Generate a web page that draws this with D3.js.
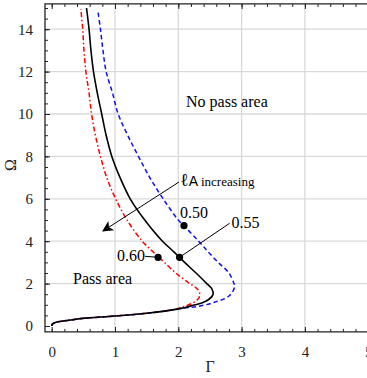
<!DOCTYPE html>
<html><head><meta charset="utf-8">
<script src="https://cdn.jsdelivr.net/npm/d3@7"></script>
<style>body{margin:0;background:#fff}svg{display:block}</style>
</head><body><svg id="c" width="367" height="378"></svg>
<script>
// Data (Gamma as a function of Omega along each curve)
const omegaBlack = [0,0.05,0.1,0.15,0.2,0.25,0.3,0.36,0.47,0.6,0.7,0.83,0.95,1.1,1.25,1.5,1.75,2,2.5,3,3.24,3.5,4,5,6,7,8,9,10,11,12,13,14,15];
const gammaBlack = [0,0.004,0.015,0.045,0.1,0.21,0.34,0.5,1.0,1.5,1.78,2.04,2.2,2.38,2.48,2.55,2.53,2.45,2.28,2.1,2.02,1.93,1.75,1.47,1.24,1.08,0.95,0.86,0.79,0.72,0.66,0.62,0.59,0.55];
const omegaRed = [0,0.05,0.1,0.15,0.2,0.25,0.3,0.36,0.47,0.6,0.7,0.83,0.95,1.1,1.3,1.5,1.75,2,2.5,3,3.24,3.5,4,5,6,7,8,9,10,11,12,13,14,14.95];
const gammaRed = [0,0.004,0.015,0.045,0.1,0.21,0.34,0.5,1.0,1.5,1.78,2.0,2.12,2.24,2.32,2.34,2.3,2.18,1.96,1.78,1.69,1.6,1.43,1.19,1.01,0.87,0.77,0.69,0.63,0.59,0.54,0.51,0.49,0.46];
const omegaBlue = [0,0.05,0.1,0.15,0.2,0.25,0.3,0.36,0.47,0.6,0.7,0.83,0.92,1.05,1.15,1.3,1.5,1.85,2,2.5,3,3.5,4,4.73,5,6,7,8,9,10,11,12,13,14,14.85];
const gammaBlue = [0,0.004,0.015,0.045,0.1,0.21,0.34,0.5,1.0,1.5,1.78,2.05,2.3,2.5,2.6,2.74,2.83,2.89,2.88,2.8,2.63,2.47,2.32,2.09,2.0,1.76,1.55,1.37,1.2,1.05,0.96,0.86,0.81,0.77,0.73];
const markerLabels = ["0.50","0.55","0.60"];
const markerGamma = [2.09,2.02,1.68];
const markerOmega = [4.73,3.24,3.24];
const xTicks = [0,1,2,3,4,5];
const yTicks = [0,2,4,6,8,10,12,14];

const SERIF = '"Liberation Serif"';
const svg = d3.select("#c");
const x = d3.scaleLinear().domain([0,5]).range([51.7,368.2]);
const y = d3.scaleLinear().domain([0,14]).range([326,29.2]);
const X0 = x(-0.106), X1 = x(5.15), Y0 = y(-0.28), Y1 = y(15.19);

// grid
const g = svg.append("g");
g.selectAll(".gx").data(xTicks.filter(d=>d>0)).join("line")
  .attr("x1",d=>x(d)).attr("x2",d=>x(d)).attr("y1",Y0).attr("y2",Y1)
  .attr("stroke","#d9d9d9").attr("stroke-width",1.3);
g.selectAll(".gy").data(yTicks.filter(d=>d>0)).join("line")
  .attr("y1",d=>y(d)).attr("y2",d=>y(d)).attr("x1",X0).attr("x2",X1)
  .attr("stroke","#d9d9d9").attr("stroke-width",1.3);

// axes
function styleAxis(sel){sel.attr("font-family",null).attr("font-size",null);sel.select(".domain").remove();sel.selectAll("line").attr("stroke","#222").attr("stroke-width",1);sel.selectAll("text").attr("font-size",15).attr("fill","#222").style("font-family",SERIF);}
const xMinor = d3.range(0,5.01,0.2).map(v=>+v.toFixed(1));
const yMinor = d3.range(0,15.01,0.5);
svg.append("g").attr("transform",`translate(0,${Y0})`).call(d3.axisBottom(x).tickValues(xMinor).tickSize(-3).tickFormat("")).call(styleAxis);
svg.append("g").attr("transform",`translate(0,${Y0})`).call(d3.axisBottom(x).tickValues(xTicks).tickSize(-5).tickPadding(14).tickFormat(d3.format("d"))).call(styleAxis);
svg.append("g").attr("transform",`translate(0,${Y1})`).call(d3.axisTop(x).tickValues(xMinor).tickSize(-3).tickFormat("")).call(styleAxis);
svg.append("g").attr("transform",`translate(0,${Y1})`).call(d3.axisTop(x).tickValues(xTicks).tickSize(-5).tickFormat("")).call(styleAxis);
svg.append("g").attr("transform",`translate(${X0},0)`).call(d3.axisLeft(y).tickValues(yMinor).tickSize(-3).tickFormat("")).call(styleAxis);
svg.append("g").attr("transform",`translate(${X0},0)`).call(d3.axisLeft(y).tickValues(yTicks).tickSize(-5).tickPadding(12).tickFormat(d3.format("d"))).call(styleAxis);
// frame
svg.append("path").attr("d",`M${X1},${Y1}H${X0}V${Y0}H${X1}`).attr("fill","none").attr("stroke","#222").attr("stroke-width",1.3);

// curves
const line = d3.line().x(d=>x(d[0])).y(d=>y(d[1])).curve(d3.curveCatmullRom.alpha(0.5));
const zipc=(gs,os)=>gs.map((v,i)=>[v,os[i]]);
svg.append("path").attr("d",line(zipc(gammaRed,omegaRed))).attr("fill","none").attr("stroke","#ff0000").attr("stroke-width",1.5).attr("stroke-dasharray","5,2.5,1.5,2.5");
svg.append("path").attr("d",line(zipc(gammaBlue,omegaBlue))).attr("fill","none").attr("stroke","#1010ee").attr("stroke-width",1.5).attr("stroke-dasharray","4.5,3");
svg.append("path").attr("d",line(zipc(gammaBlack,omegaBlack))).attr("fill","none").attr("stroke","#000").attr("stroke-width",1.6);

// leaders
const mx = markerGamma.map(x), my = markerOmega.map(y);
svg.append("line").attr("x1",mx[1]).attr("y1",my[1]).attr("x2",mx[1]+50).attr("y2",my[1]-34).attr("stroke","#000").attr("stroke-width",1);
svg.append("line").attr("x1",mx[2]).attr("y1",my[2]).attr("x2",mx[2]-13).attr("y2",my[2]-1).attr("stroke","#000").attr("stroke-width",1);
svg.selectAll(".pt").data(markerGamma).join("circle").attr("cx",(d,i)=>mx[i]).attr("cy",(d,i)=>my[i]).attr("r",3.6).attr("fill","#000");
function txt(xp,yp,size,s,anchor){return svg.append("text").attr("x",xp).attr("y",yp).attr("font-size",size).attr("text-anchor",anchor||"start").style("font-family",SERIF).text(s);}
txt(mx[0]-4,my[0]-8,16,markerLabels[0]);
txt(mx[1]+52,my[1]-29,16,markerLabels[1]);
txt(mx[2]-13,my[2]+4,16,markerLabels[2],"end");

// arrow
svg.append("defs").append("marker").attr("id","ah").attr("viewBox","0 0 10 10").attr("refX",9).attr("refY",5)
  .attr("markerWidth",15).attr("markerHeight",11).attr("markerUnits","userSpaceOnUse").attr("orient","auto")
  .append("path").attr("d","M0,0L10,5L0,10L2.5,5Z").attr("fill","#000");
svg.append("line").attr("x1",179).attr("y1",182).attr("x2",103).attr("y2",231).attr("stroke","#000").attr("stroke-width",1).attr("marker-end","url(#ah)");
const t = svg.append("text").attr("x",180).attr("y",186).style("font-family",SERIF);
t.append("tspan").attr("font-size",18).text("ℓ");
t.append("tspan").style("font-family",'"Liberation Sans"').attr("font-size",14).text("A");
t.append("tspan").attr("font-size",13).attr("dx",3).text("increasing");

txt(186,107,16,"No pass area");
txt(73,284,16,"Pass area");
txt(210,372,16,"Γ","middle").attr("fill","#222");
svg.append("text").attr("transform","translate(16,165) rotate(-90)").attr("font-size",16).attr("text-anchor","middle").attr("fill","#222").style("font-family",SERIF).text("Ω");
</script></body></html>
